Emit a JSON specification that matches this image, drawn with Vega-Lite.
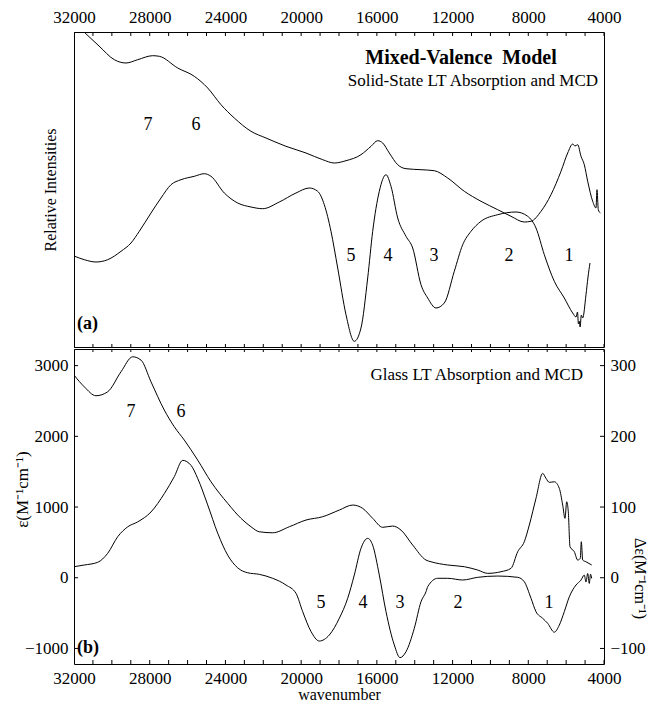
{
  "$schema": "https://vega.github.io/schema/vega-lite/v6.json",
  "background": "white",
  "padding": {"left": 12, "top": 7, "right": 0, "bottom": 0},
  "config": {
    "view": {"stroke": "black", "strokeWidth": 1},
    "concat": {"spacing": 0},
    "font": "Times New Roman, Liberation Serif, serif",
    "text": {"font": "Times New Roman, Liberation Serif, serif"},
    "axis": {
      "labelFont": "Times New Roman, Liberation Serif, serif", "titleFont": "Times New Roman, Liberation Serif, serif",
      "labelFontSize": 17, "titleFontSize": 17, "titleFontWeight": "normal",
      "labelColor": "black", "titleColor": "black", "domainColor": "black", "grid": false
    },
    "line": {"color": "black", "strokeWidth": 1, "interpolate": "monotone"}
  },
  "datasets": {
    "xTicks": [
      {"w":4000},{"w":5000},{"w":6000},{"w":7000},{"w":8000},{"w":9000},{"w":10000},{"w":11000},{"w":12000},{"w":13000},{"w":14000},{"w":15000},{"w":16000},{"w":17000},{"w":18000},{"w":19000},{"w":20000},{"w":21000},{"w":22000},{"w":23000},{"w":24000},{"w":25000},{"w":26000},{"w":27000},{"w":28000},{"w":29000},{"w":30000},{"w":31000},{"w":32000}
    ],
    "yTicks": [{"e":-1000},{"e":0},{"e":1000},{"e":2000},{"e":3000}],
    "topAbs": [
      {"w":31470,"v":200},{"w":30679,"v":186},{"w":29871,"v":172.3},{"w":29253,"v":169},{"w":28635,"v":172.3},{"w":27842,"v":176.3},{"w":27494,"v":175.7},{"w":26522,"v":164},{"w":25645,"v":155.7},{"w":24937,"v":144},{"w":24234,"v":127.3},{"w":23531,"v":114},{"w":22649,"v":100.7},{"w":21857,"v":94},{"w":20800,"v":85.7},{"w":19743,"v":79},{"w":18861,"v":72.3},{"w":18248,"v":69},{"w":17630,"v":71.3},{"w":16838,"v":77.3},{"w":16309,"v":85.7},{"w":15956,"v":91.3},{"w":15691,"v":89},{"w":15343,"v":79},{"w":14899,"v":67.3},{"w":14460,"v":63.3},{"w":13668,"v":62.3},{"w":12965,"v":61.3},{"w":12258,"v":54},{"w":11380,"v":40.7},{"w":10498,"v":30.7},{"w":9616,"v":22.3},{"w":8913,"v":15.7},{"w":8211,"v":10},{"w":7857,"v":10.7},{"w":7328,"v":20.7},{"w":6800,"v":37.3},{"w":6272,"v":60.7},{"w":5918,"v":79},{"w":5654,"v":88},{"w":5532,"v":86},{"w":5390,"v":87.3},{"w":5215,"v":75.7},{"w":5041,"v":67.3},{"w":4861,"v":50.7},{"w":4597,"v":30.7},{"w":4423,"v":24},{"w":4370,"v":42.3},{"w":4301,"v":22.3},{"w":4196,"v":19}
    ],
    "topMcd": [
      {"w":32000,"v":-24},{"w":31456,"v":-27.7},{"w":30838,"v":-30},{"w":30220,"v":-27.7},{"w":29517,"v":-19.3},{"w":28989,"v":-11},{"w":28550,"v":0.7},{"w":27932,"v":19},{"w":27404,"v":34},{"w":26875,"v":47.3},{"w":26347,"v":52.3},{"w":25645,"v":55.7},{"w":25116,"v":58.3},{"w":24762,"v":55.7},{"w":24060,"v":39},{"w":23352,"v":29},{"w":22649,"v":25},{"w":22031,"v":23.3},{"w":21154,"v":30},{"w":20272,"v":39},{"w":19569,"v":44},{"w":19125,"v":40.7},{"w":18777,"v":27.3},{"w":18423,"v":0.7},{"w":18069,"v":-36},{"w":17630,"v":-82.7},{"w":17192,"v":-109.3},{"w":16838,"v":-96},{"w":16484,"v":-46},{"w":16220,"v":0.7},{"w":15871,"v":40.7},{"w":15517,"v":57.3},{"w":15253,"v":45.7},{"w":14899,"v":14},{"w":14460,"v":-4.3},{"w":14107,"v":-16},{"w":13668,"v":-52.7},{"w":13314,"v":-66},{"w":12876,"v":-76},{"w":12437,"v":-71},{"w":11909,"v":-39.3},{"w":11465,"v":-12.7},{"w":11026,"v":0.7},{"w":10498,"v":10.7},{"w":9616,"v":17.3},{"w":8649,"v":20},{"w":8031,"v":15.7},{"w":7593,"v":4},{"w":7153,"v":-22.7},{"w":6626,"v":-49.3},{"w":6097,"v":-66},{"w":5654,"v":-81},{"w":5479,"v":-85},{"w":5400,"v":-80},{"w":5350,"v":-92},{"w":5305,"v":-89.3},{"w":5260,"v":-95},{"w":5200,"v":-83},{"w":5126,"v":-86},{"w":4951,"v":-62.7},{"w":4845,"v":-45},{"w":4740,"v":-31}
    ],
    "botAbs": [
      {"w":32000,"e":2866},{"w":31456,"e":2700},{"w":30838,"e":2574},{"w":30220,"e":2630},{"w":29517,"e":2913},{"w":28899,"e":3125},{"w":28460,"e":3078},{"w":27932,"e":2771},{"w":27229,"e":2371},{"w":26701,"e":2135},{"w":26173,"e":1947},{"w":25465,"e":1664},{"w":24762,"e":1357},{"w":23880,"e":1052},{"w":23177,"e":840},{"w":22649,"e":721},{"w":22211,"e":650},{"w":21503,"e":636},{"w":20626,"e":721},{"w":19743,"e":816},{"w":18861,"e":863},{"w":17984,"e":957},{"w":17276,"e":1028},{"w":16748,"e":981},{"w":16220,"e":840},{"w":15691,"e":713},{"w":15163,"e":731},{"w":14725,"e":674},{"w":14107,"e":462},{"w":13404,"e":250},{"w":13140,"e":226},{"w":12258,"e":180},{"w":11380,"e":156},{"w":10673,"e":109},{"w":10144,"e":62},{"w":9442,"e":85},{"w":8913,"e":133},{"w":8559,"e":368},{"w":8211,"e":509},{"w":7946,"e":745},{"w":7593,"e":1123},{"w":7239,"e":1476},{"w":7064,"e":1405},{"w":6890,"e":1349},{"w":6626,"e":1357},{"w":6361,"e":1264},{"w":6182,"e":1028},{"w":6060,"e":840},{"w":5971,"e":1075},{"w":5886,"e":933},{"w":5796,"e":438},{"w":5569,"e":368},{"w":5390,"e":250},{"w":5252,"e":274},{"w":5199,"e":509},{"w":5126,"e":250},{"w":4951,"e":226},{"w":4650,"e":180}
    ],
    "botMcd": [
      {"w":32000,"d":15.6},{"w":31456,"d":18},{"w":30748,"d":21.8},{"w":30220,"d":34.5},{"w":29691,"d":58},{"w":29163,"d":72},{"w":28635,"d":79},{"w":27932,"d":93},{"w":27229,"d":119},{"w":26701,"d":143},{"w":26257,"d":166},{"w":25819,"d":159},{"w":25465,"d":140.5},{"w":24937,"d":103},{"w":24408,"d":63},{"w":23880,"d":32},{"w":23352,"d":14},{"w":22823,"d":7},{"w":22211,"d":4.8},{"w":21503,"d":-0.8},{"w":20800,"d":-10.3},{"w":20272,"d":-22},{"w":19918,"d":-48},{"w":19479,"d":-76},{"w":19041,"d":-89.5},{"w":18512,"d":-81},{"w":17984,"d":-57.4},{"w":17540,"d":-29},{"w":17192,"d":3.8},{"w":16838,"d":41.6},{"w":16484,"d":55.7},{"w":16220,"d":46},{"w":15871,"d":3.8},{"w":15517,"d":-48},{"w":15079,"d":-95},{"w":14777,"d":-113},{"w":14460,"d":-104.6},{"w":14022,"d":-71.5},{"w":13668,"d":-34},{"w":13404,"d":-19.8},{"w":13314,"d":-12.7},{"w":12786,"d":-0.8},{"w":12258,"d":-0.8},{"w":11465,"d":-3.2},{"w":10673,"d":0.6},{"w":9616,"d":2.4},{"w":8559,"d":0.6},{"w":8211,"d":-5.7},{"w":7857,"d":-29},{"w":7593,"d":-48},{"w":7239,"d":-57.4},{"w":6974,"d":-64.5},{"w":6626,"d":-77},{"w":6361,"d":-67},{"w":6097,"d":-48},{"w":5833,"d":-27},{"w":5479,"d":-10.3},{"w":5215,"d":-3.3},{"w":5041,"d":3.8},{"w":4951,"d":-6},{"w":4861,"d":6},{"w":4776,"d":-8},{"w":4713,"d":5},{"w":4650,"d":-1}
    ],
    "topLabels": [
      {"w":28090,"v":107,"t":"7"},{"w":25555,"v":107,"t":"6"},{"w":17366,"v":-24,"t":"5"},{"w":15410,"v":-24,"t":"4"},{"w":12980,"v":-24,"t":"3"},{"w":9020,"v":-24,"t":"2"},{"w":5850,"v":-24,"t":"1"}
    ],
    "botLabels": [
      {"w":28989,"e":2344,"t":"7"},{"w":26347,"e":2344,"t":"6"},{"w":18951,"e":-359,"t":"5"},{"w":16732,"e":-359,"t":"4"},{"w":14777,"e":-359,"t":"3"},{"w":11713,"e":-359,"t":"2"},{"w":6906,"e":-359,"t":"1"}
    ]
  },
  "vconcat": [
    {
      "width": 530, "height": 315,
      "resolve": {"axis": {"x": "independent", "y": "independent"}},
      "layer": [
        {
          "mark": {"type": "rule", "color": "#444", "strokeWidth": 1},
          "encoding": {"y": {"datum": 0, "type": "quantitative", "scale": {"domain": [-115, 200], "nice": false, "zero": false}, "axis": null}}
        },
        {
          "data": {"name": "xTicks"},
          "mark": {"type": "tick", "orient": "vertical", "size": 8, "thickness": 1, "color": "black", "opacity": 1, "clip": true},
          "encoding": {
            "x": {"field": "w", "type": "quantitative", "scale": {"domain": [4000, 32000], "reverse": true, "nice": false, "zero": false}, "axis": null},
            "y": {"datum": 200, "type": "quantitative", "scale": {"domain": [-115, 200], "nice": false, "zero": false}, "axis": null}
          }
        },
        {
          "data": {"name": "xTicks"},
          "mark": {"type": "tick", "orient": "vertical", "size": 6, "thickness": 1, "color": "black", "opacity": 1, "clip": true},
          "encoding": {
            "x": {"field": "w", "type": "quantitative", "scale": {"domain": [4000, 32000], "reverse": true, "nice": false, "zero": false}, "axis": null},
            "y": {"datum": -115, "type": "quantitative", "scale": {"domain": [-115, 200], "nice": false, "zero": false}, "axis": null}
          }
        },
        {
          "data": {"name": "topAbs"},
          "mark": {"type": "line", "clip": true},
          "encoding": {
            "x": {"field": "w", "type": "quantitative", "scale": {"domain": [4000, 32000], "reverse": true, "nice": false, "zero": false},
                  "axis": {"orient": "top", "title": null, "ticks": false, "domain": false, "values": [4000, 8000, 12000, 16000, 20000, 24000, 28000, 32000],
                           "format": "d", "labelPadding": 6, "labelFlush": false, "labelOverlap": false}},
            "y": {"field": "v", "type": "quantitative", "scale": {"domain": [-115, 200], "nice": false, "zero": false},
                  "axis": {"title": "Relative Intensities", "labels": false, "ticks": false, "titleX": -24, "titleBaseline": "middle", "titleFontSize": 16}}
          }
        },
        {
          "data": {"name": "topMcd"},
          "mark": {"type": "line", "clip": true},
          "encoding": {
            "x": {"field": "w", "type": "quantitative", "scale": {"domain": [4000, 32000], "reverse": true, "nice": false, "zero": false}, "axis": null},
            "y": {"field": "v", "type": "quantitative", "scale": {"domain": [-115, 200], "nice": false, "zero": false}, "axis": null}
          }
        },
        {
          "data": {"name": "topLabels"},
          "mark": {"type": "text", "fontSize": 18, "baseline": "middle", "align": "center", "color": "black"},
          "encoding": {
            "x": {"field": "w", "type": "quantitative", "scale": {"domain": [4000, 32000], "reverse": true, "nice": false, "zero": false}, "axis": null},
            "y": {"field": "v", "type": "quantitative", "scale": {"domain": [-115, 200], "nice": false, "zero": false}, "axis": null},
            "text": {"field": "t"}
          }
        },
        {
          "data": {"values": [{"w": 11555, "v": 174.5, "t": "Mixed-Valence\u00a0 Model"}]},
          "mark": {"type": "text", "fontSize": 20, "fontWeight": "bold", "baseline": "middle", "align": "center", "color": "black"},
          "encoding": {
            "x": {"field": "w", "type": "quantitative", "scale": {"domain": [4000, 32000], "reverse": true, "nice": false, "zero": false}, "axis": null},
            "y": {"field": "v", "type": "quantitative", "scale": {"domain": [-115, 200], "nice": false, "zero": false}, "axis": null},
            "text": {"field": "t"}
          }
        },
        {
          "data": {"values": [{"w": 4317, "v": 151.5, "t": "Solid-State LT Absorption and MCD"}]},
          "mark": {"type": "text", "fontSize": 17, "baseline": "middle", "align": "right", "color": "black"},
          "encoding": {
            "x": {"field": "w", "type": "quantitative", "scale": {"domain": [4000, 32000], "reverse": true, "nice": false, "zero": false}, "axis": null},
            "y": {"field": "v", "type": "quantitative", "scale": {"domain": [-115, 200], "nice": false, "zero": false}, "axis": null},
            "text": {"field": "t"}
          }
        },
        {
          "data": {"values": [{"w": 31840, "v": -92, "t": "(a)"}]},
          "mark": {"type": "text", "fontSize": 18, "fontWeight": "bold", "baseline": "middle", "align": "left", "color": "black"},
          "encoding": {
            "x": {"field": "w", "type": "quantitative", "scale": {"domain": [4000, 32000], "reverse": true, "nice": false, "zero": false}, "axis": null},
            "y": {"field": "v", "type": "quantitative", "scale": {"domain": [-115, 200], "nice": false, "zero": false}, "axis": null},
            "text": {"field": "t"}
          }
        }
      ]
    },
    {
      "width": 530, "height": 315,
      "resolve": {"scale": {"y": "independent"}, "axis": {"x": "independent", "y": "independent"}},
      "layer": [
        {
          "mark": {"type": "rule", "color": "black", "strokeWidth": 1},
          "encoding": {"y": {"datum": 0, "type": "quantitative", "scale": {"domain": [-1220, 3235], "nice": false, "zero": false}, "axis": null}}
        },
        {
          "data": {"name": "xTicks"},
          "mark": {"type": "tick", "orient": "vertical", "size": 6, "thickness": 1, "color": "black", "opacity": 1, "clip": true},
          "encoding": {
            "x": {"field": "w", "type": "quantitative", "scale": {"domain": [4000, 32000], "reverse": true, "nice": false, "zero": false}, "axis": null},
            "y": {"datum": 3235, "type": "quantitative", "scale": {"domain": [-1220, 3235], "nice": false, "zero": false}, "axis": null}
          }
        },
        {
          "data": {"name": "xTicks"},
          "mark": {"type": "tick", "orient": "vertical", "size": 8, "thickness": 1, "color": "black", "opacity": 1, "clip": true},
          "encoding": {
            "x": {"field": "w", "type": "quantitative", "scale": {"domain": [4000, 32000], "reverse": true, "nice": false, "zero": false}, "axis": null},
            "y": {"datum": -1220, "type": "quantitative", "scale": {"domain": [-1220, 3235], "nice": false, "zero": false}, "axis": null}
          }
        },
        {
          "data": {"name": "yTicks"},
          "mark": {"type": "tick", "orient": "horizontal", "size": 8, "thickness": 1, "color": "black", "opacity": 1, "clip": true},
          "encoding": {
            "x": {"datum": 32000, "type": "quantitative", "scale": {"domain": [4000, 32000], "reverse": true, "nice": false, "zero": false}, "axis": null},
            "y": {"field": "e", "type": "quantitative", "scale": {"domain": [-1220, 3235], "nice": false, "zero": false}, "axis": null}
          }
        },
        {
          "data": {"name": "yTicks"},
          "mark": {"type": "tick", "orient": "horizontal", "size": 8, "thickness": 1, "color": "black", "opacity": 1, "clip": true},
          "encoding": {
            "x": {"datum": 4000, "type": "quantitative", "scale": {"domain": [4000, 32000], "reverse": true, "nice": false, "zero": false}, "axis": null},
            "y": {"field": "e", "type": "quantitative", "scale": {"domain": [-1220, 3235], "nice": false, "zero": false}, "axis": null}
          }
        },
        {
          "data": {"name": "botAbs"},
          "mark": {"type": "line", "clip": true},
          "encoding": {
            "x": {"field": "w", "type": "quantitative", "scale": {"domain": [4000, 32000], "reverse": true, "nice": false, "zero": false},
                  "axis": {"orient": "bottom", "title": "wavenumber", "titlePadding": 0, "titleFontSize": 16, "ticks": false, "domain": false, "values": [4000, 8000, 12000, 16000, 20000, 24000, 28000, 32000],
                           "format": "d", "labelPadding": 6, "labelFlush": false, "labelOverlap": false}},
            "y": {"field": "e", "type": "quantitative", "scale": {"domain": [-1220, 3235], "nice": false, "zero": false},
                  "axis": {"orient": "left", "title": "ε(M⁻¹cm⁻¹)", "ticks": false, "domain": false, "values": [-1000, 0, 1000, 2000, 3000], "format": "d", "labelPadding": 6, "titleX": -52, "titleY": 140, "titleBaseline": "middle"}}
          }
        },
        {
          "data": {"name": "botMcd"},
          "mark": {"type": "line", "clip": true},
          "encoding": {
            "x": {"field": "w", "type": "quantitative", "scale": {"domain": [4000, 32000], "reverse": true, "nice": false, "zero": false}, "axis": null},
            "y": {"field": "d", "type": "quantitative", "scale": {"domain": [-122, 323.5], "nice": false, "zero": false},
                  "axis": {"orient": "right", "title": "Δε(M⁻¹cm⁻¹)", "ticks": false, "domain": false, "values": [-100, 0, 100, 200, 300], "format": "d", "labelPadding": 6, "titleX": 35, "titleY": 229, "titleBaseline": "middle", "titleAngle": 90, "titleFontSize": 16}}
          }
        },
        {
          "data": {"name": "botLabels"},
          "mark": {"type": "text", "fontSize": 18, "baseline": "middle", "align": "center", "color": "black"},
          "encoding": {
            "x": {"field": "w", "type": "quantitative", "scale": {"domain": [4000, 32000], "reverse": true, "nice": false, "zero": false}, "axis": null},
            "y": {"field": "e", "type": "quantitative", "scale": {"domain": [-1220, 3235], "nice": false, "zero": false}, "axis": null},
            "text": {"field": "t"}
          }
        },
        {
          "data": {"values": [{"w": 5110, "e": 2873, "t": "Glass LT Absorption and MCD"}]},
          "mark": {"type": "text", "fontSize": 17, "baseline": "middle", "align": "right", "color": "black"},
          "encoding": {
            "x": {"field": "w", "type": "quantitative", "scale": {"domain": [4000, 32000], "reverse": true, "nice": false, "zero": false}, "axis": null},
            "y": {"field": "e", "type": "quantitative", "scale": {"domain": [-1220, 3235], "nice": false, "zero": false}, "axis": null},
            "text": {"field": "t"}
          }
        },
        {
          "data": {"values": [{"w": 31840, "e": -994, "t": "(b)"}]},
          "mark": {"type": "text", "fontSize": 18, "fontWeight": "bold", "baseline": "middle", "align": "left", "color": "black"},
          "encoding": {
            "x": {"field": "w", "type": "quantitative", "scale": {"domain": [4000, 32000], "reverse": true, "nice": false, "zero": false}, "axis": null},
            "y": {"field": "e", "type": "quantitative", "scale": {"domain": [-1220, 3235], "nice": false, "zero": false}, "axis": null},
            "text": {"field": "t"}
          }
        }
      ]
    }
  ]
}
